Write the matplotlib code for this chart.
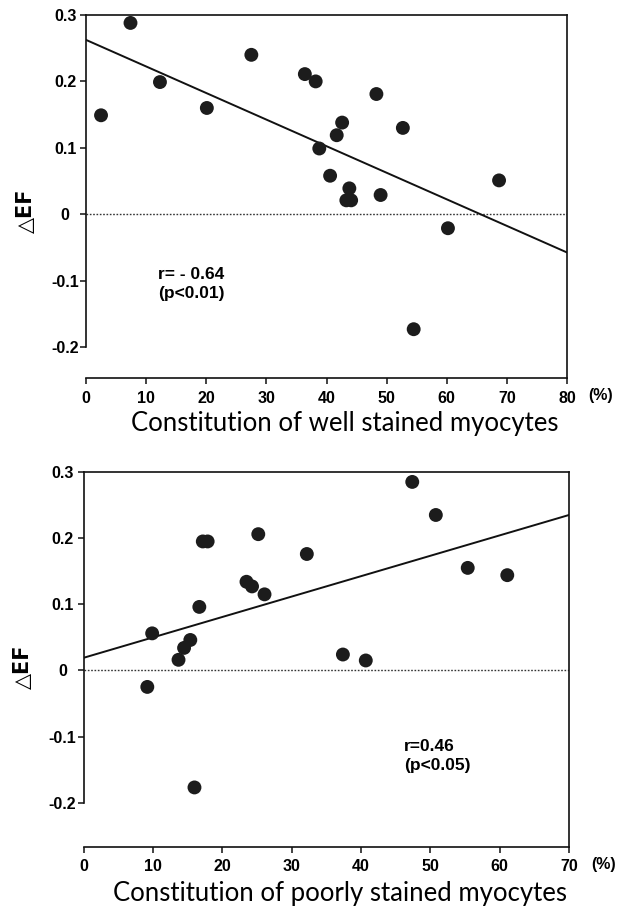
import matplotlib
matplotlib.use("Agg")
import matplotlib.pyplot as plt
import numpy as np

# ---- data: top panel (well stained) ----
well_x = [7.4, 27.5, 12.3, 2.5, 20.1, 36.4, 38.2, 48.3, 42.6, 41.7, 52.7, 38.8,
          40.6, 43.8, 43.3, 44.1, 49.0, 68.7, 60.2, 54.5]
well_y = [0.288, 0.240, 0.199, 0.149, 0.160, 0.211, 0.200, 0.181, 0.138, 0.119,
          0.130, 0.099, 0.058, 0.039, 0.021, 0.021, 0.029, 0.051, -0.021, -0.173]
well_fit = [0.2625, -0.0575]   # fitted line values at x=0 and x=80
well_fit_x = [0, 80]

# ---- data: bottom panel (poorly stained) ----
poor_x = [47.4, 50.8, 25.2, 17.2, 17.9, 32.2, 55.4, 61.1, 23.5, 24.3, 26.1,
          16.7, 9.9, 15.4, 14.5, 13.7, 37.4, 40.7, 9.2, 16.0]
poor_y = [0.285, 0.235, 0.206, 0.195, 0.195, 0.176, 0.155, 0.144, 0.134, 0.127,
          0.115, 0.096, 0.056, 0.046, 0.034, 0.016, 0.024, 0.015, -0.025, -0.177]
poor_fit = [0.019, 0.235]      # fitted line values at x=0 and x=70
poor_fit_x = [0, 70]

y_ticks = [-0.2, -0.1, 0, 0.1, 0.2, 0.3]
y_ticklabels = ["-0.2", "-0.1", "0", "0.1", "0.2", "0.3"]
well_xticks = [0, 10, 20, 30, 40, 50, 60, 70, 80]
poor_xticks = [0, 10, 20, 30, 40, 50, 60, 70]

tick_font = dict(family=["Liberation Sans", "DejaVu Sans"], weight="bold", size=11.5)
note_font = dict(family=["Liberation Sans", "DejaVu Sans"], weight="bold", size=12.5)
label_font = dict(family=["Lato", "DejaVu Sans"], size=18.5)
ylab_font = dict(family=["DejaVu Sans"], weight="bold", size=15)

fig = plt.figure(figsize=(6.25, 9.07), dpi=100)
fig.patch.set_facecolor("white")

def panel(rect, xs, ys, fitx, fity, xmax, xticks, ybottom, rtxt, ptxt, txtpos, xlabel, xlab_x):
    ax = fig.add_axes(rect)
    ax.set_xlim(0, xmax)
    ax.set_ylim(ybottom, 0.3)
    ax.axhline(0, color="#333333", lw=1.0, ls=(0, (1.2, 1.2)), zorder=1)
    ax.plot(fitx, fity, color="#111111", lw=1.4, zorder=2)
    ax.scatter(xs, ys, s=100, color="#1c1c1c", edgecolors="none", zorder=3)
    for s in ["left", "right", "top", "bottom"]:
        ax.spines[s].set_linewidth(1.2)
        ax.spines[s].set_color("#111111")
    ax.spines["left"].set_bounds(-0.2, 0.3)
    ax.set_yticks(y_ticks)
    ax.set_yticklabels(y_ticklabels, ha="center", **tick_font)
    ax.set_xticks(xticks)
    ax.set_xticklabels([str(t) for t in xticks], **tick_font)
    ax.tick_params(axis="both", direction="out", length=4, width=1.1, color="#111111")
    ax.tick_params(axis="y", pad=11)
    ax.tick_params(axis="x", pad=5)
    ax.text(1.045, -0.047, "(%)", transform=ax.transAxes, ha="left", va="center", **tick_font)
    ax.set_xlabel(xlabel, labelpad=6, **label_font)
    ax.xaxis.set_label_coords(xlab_x, -0.091)
    ax.xaxis.label.set_va("top")
    ax.text(-0.125, (0 - ybottom) / (0.3 - ybottom) + 0.01, "\u25b3EF", transform=ax.transAxes,
            rotation=90, ha="center", va="center", **ylab_font)
    ax.text(txtpos[0], txtpos[1], rtxt + "\n" + ptxt, ha="left", va="center",
            linespacing=1.35, **note_font)
    return ax

panel([0.1376, 0.5832, 0.7696, 0.4003], well_x, well_y, well_fit_x, well_fit,
      80, well_xticks, -0.2465, "r= - 0.64", "(p<0.01)", (12.0, -0.105),
      "Constitution of well stained myocytes", 0.538)
panel([0.1336, 0.0662, 0.7768, 0.4134], poor_x, poor_y, poor_fit_x, poor_fit,
      70, poor_xticks, -0.267, "r=0.46", "(p<0.05)", (46.2, -0.130),
      "Constitution of poorly stained myocytes", 0.528)

fig.savefig("out.png", dpi=100, facecolor="white")
